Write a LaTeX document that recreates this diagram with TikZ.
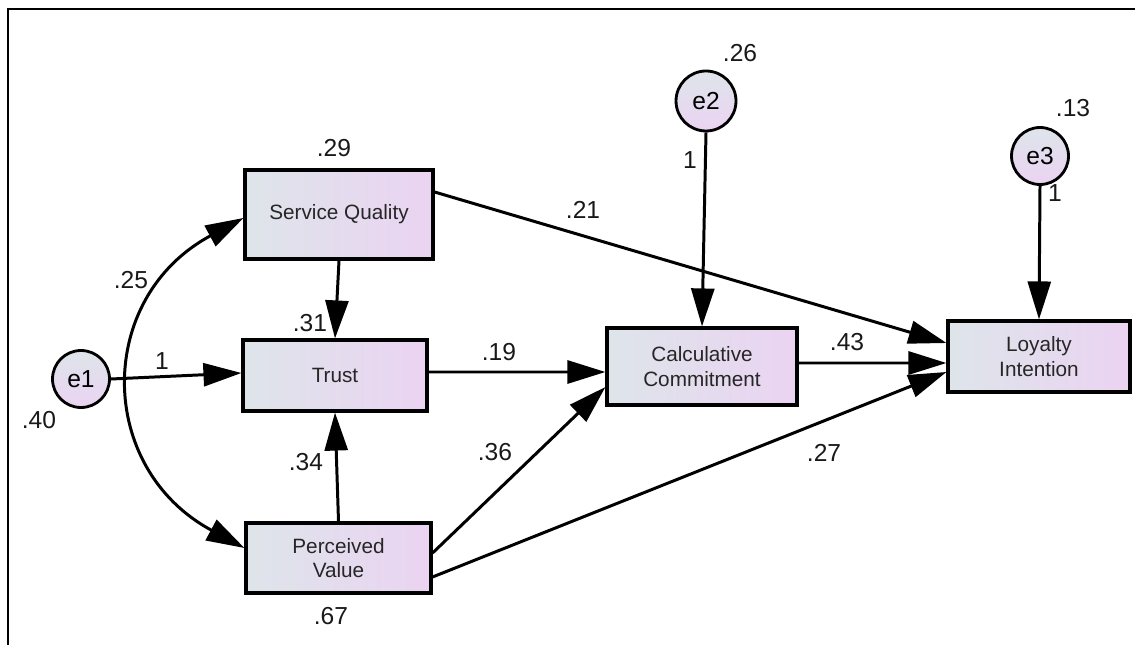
\documentclass[tikz,border=0pt]{standalone}
\usepackage{fontspec}
\setmainfont{Liberation Sans}
\usetikzlibrary{arrows.meta,calc}

\definecolor{shadeblue}{RGB}{222,229,234}
\definecolor{shadepink}{RGB}{235,211,242}

\tikzset{
  obsvar/.style={draw, line width=1.8pt, left color=shadeblue, right color=shadepink,
    align=center, inner sep=2pt, font=\fontsize{11.8}{14}\selectfont, text=black!85},
  errvar/.style={circle, draw, line width=1.6pt, top color=shadeblue, bottom color=shadepink,
    inner sep=0pt, minimum size=1.14cm, font=\fontsize{14}{16}\selectfont},
  coef/.style={inner sep=0pt, font=\fontsize{14}{16}\selectfont, text=black!90},
  semtip/.tip={Triangle[length=0.76cm,width=0.46cm]},
  regr/.style={-semtip, line width=1.7pt},
}

\begin{document}
\begin{tikzpicture}[x=0.02cm, y=-0.02cm]
  \useasboundingbox (0,0) rectangle (1135,645);
  \draw[line width=1.2pt] (8,645) -- (8,9) -- (1135,9);
  % observed variables
  \node[obsvar, minimum width=3.76cm, minimum height=1.78cm] (SQ) at (339,214.5) {Service Quality};
  \node[obsvar, minimum width=3.68cm, minimum height=1.42cm] (T) at (335,375.5) {Trust};
  \node[obsvar, minimum width=3.70cm, minimum height=1.40cm] (PV) at (338.5,558) {Perceived\\Value};
  \node[obsvar, minimum width=3.80cm, minimum height=1.54cm] (CC) at (702,366.5) {Calculative\\Commitment};
  \node[obsvar, minimum width=3.64cm, minimum height=1.42cm] (LI) at (1039,356.5) {Loyalty\\Intention};
  % error terms
  \node[errvar] (e1) at (81,379) {e1};
  \node[errvar, minimum size=1.2cm] (e2) at (706,101) {e2};
  \node[errvar] (e3) at (1040,156) {e3};
  % regression paths
  \begin{scope}[regr]
    \draw (SQ.south) to (T.north);
    \draw (PV.north) to (T.south);
    \draw (e1.east) to ($(T.west)+(0,-2.5)$);
    \draw ($(T.east)+(0,-3.5)$) to ($(CC.west)+(0,5.5)$);
    \draw ($(PV.east)+(0,-5)$) to ($(CC.west)+(0,20.5)$);
    \draw ($(SQ.east)+(0,-22.5)$) to ($(LI.west)+(0,-13.5)$);
    \draw ($(CC.east)+(0,-3.5)$) to ($(LI.west)+(0,6.5)$);
    \draw ($(PV.east)+(0,19)$) to ($(LI.west)+(0,15.5)$);
    \draw (e2.south) to (CC.north);
    \draw (e3.south) to (LI.north);
  \end{scope}
  % covariance
  \draw[semtip-semtip, line width=1.7pt] ($(SQ.west)+(0,3.5)$)
    .. controls (95,298) and (96,468) .. ($(PV.west)+(0,-10)$);
  % estimates
  \node[coef] (vSQ) at (334,148) {.29};
  \node[coef] (vPV) at (331,616) {.67};
  \node[coef] (ve1) at (39,420) {.40};
  \node[coef] (ve2) at (740,53) {.26};
  \node[coef] (ve3) at (1073,108) {.13};
  \node[coef] (cov) at (131,280) {.25};
  \node[coef] (pSQT) at (310,323) {.31};
  \node[coef] (pPVT) at (306,462) {.34};
  \node[coef] (pe1) at (162,361) {1};
  \node[coef] (pTCC) at (499,352) {.19};
  \node[coef] (pPVCC) at (495,452) {.36};
  \node[coef] (pSQLI) at (583,210) {.21};
  \node[coef] (pCCLI) at (847,342) {.43};
  \node[coef] (pPVLI) at (824,453) {.27};
  \node[coef] (pe2) at (690,160) {1};
  \node[coef] (pe3) at (1055,193) {1};
\end{tikzpicture}
\end{document}
